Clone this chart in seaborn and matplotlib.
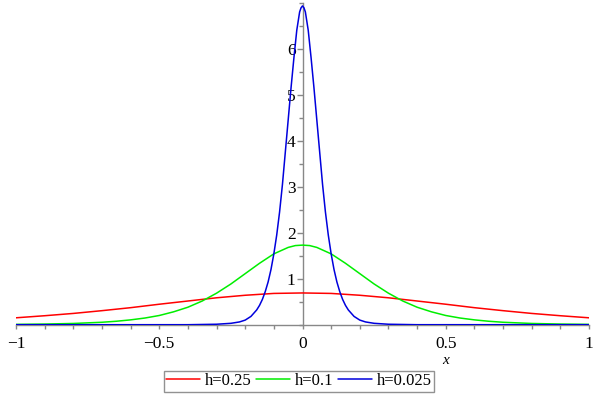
import numpy as np
import pandas as pd
import seaborn as sns
import matplotlib.pyplot as plt
from matplotlib.ticker import MultipleLocator
import matplotlib.transforms as mtransforms

# values
x_red = [-1.0, -0.9, -0.8, -0.7, -0.6, -0.5, -0.4, -0.3, -0.2, -0.1, 0.0,
         0.1, 0.2, 0.3, 0.4, 0.5, 0.6, 0.7, 0.8, 0.9, 1.0]
y_red = [0.15, 0.195, 0.245, 0.305, 0.37, 0.445, 0.515, 0.585, 0.64, 0.68, 0.69,
         0.68, 0.64, 0.585, 0.515, 0.445, 0.37, 0.305, 0.245, 0.195, 0.15]

x_green = [-1.0, -0.9, -0.8, -0.7, -0.65, -0.6, -0.55, -0.5, -0.45, -0.4, -0.35, -0.3,
           -0.25, -0.2, -0.15, -0.1, -0.05, -0.025, 0.0, 0.025, 0.05, 0.1, 0.15,
           0.2, 0.25, 0.3, 0.35, 0.4, 0.45, 0.5, 0.55, 0.6, 0.65, 0.7, 0.8, 0.9, 1.0]
y_green = [0.007, 0.014, 0.027, 0.053, 0.075, 0.105, 0.145, 0.20, 0.28, 0.38, 0.515, 0.685,
           0.885, 1.11, 1.335, 1.54, 1.68, 1.72, 1.73, 1.72, 1.68, 1.54, 1.335,
           1.11, 0.885, 0.685, 0.515, 0.38, 0.28, 0.20, 0.145, 0.105, 0.075, 0.053,
           0.027, 0.014, 0.007]

x_blue = [-1.0, -0.8, -0.6, -0.4, -0.3, -0.25, -0.22, -0.2, -0.18, -0.16, -0.15, -0.14,
          -0.13, -0.12, -0.11, -0.1, -0.09, -0.08, -0.07, -0.06, -0.05, -0.04, -0.03,
          -0.02, -0.01, -0.005, 0.0, 0.005, 0.01, 0.02, 0.03, 0.04, 0.05, 0.06, 0.07,
          0.08, 0.09, 0.1, 0.11, 0.12, 0.13, 0.14, 0.15, 0.16, 0.18, 0.2, 0.22, 0.25,
          0.3, 0.4, 0.6, 0.8, 1.0]
y_blue = [0.0, 0.0, 0.0, 0.0, 0.01, 0.03, 0.06, 0.10, 0.18, 0.32, 0.42, 0.55,
          0.72, 0.93, 1.20, 1.54, 1.95, 2.45, 3.05, 3.75, 4.45, 5.15, 5.80,
          6.40, 6.80, 6.89, 6.93, 6.89, 6.80, 6.40, 5.80, 5.15, 4.45, 3.75, 3.05,
          2.45, 1.95, 1.54, 1.20, 0.93, 0.72, 0.55, 0.42, 0.32, 0.18, 0.10, 0.06, 0.03,
          0.01, 0.0, 0.0, 0.0, 0.0]

labels = ["h=0.25", "h=0.1", "h=0.025"]
colors = ["#ff0000", "#00ee00", "#0000dd"]
xtick_vals = [-1, -0.5, 0, 0.5, 1]
xtick_text = ["\u22121", "\u22120.5", "0", "0.5", "1"]
ytick_vals = [1, 2, 3, 4, 5, 6]

df = pd.concat([
    pd.DataFrame({"x": x_red, "y": y_red, "h": labels[0]}),
    pd.DataFrame({"x": x_green, "y": y_green, "h": labels[1]}),
    pd.DataFrame({"x": x_blue, "y": y_blue, "h": labels[2]}),
])

sns.set_theme(style="white")
plt.rcParams["font.family"] = ["Liberation Serif", "DejaVu Serif"]
plt.rcParams["text.color"] = "black"

fig = plt.figure(figsize=(6, 4), dpi=100)
ax = fig.add_axes([16 / 600, 75.3 / 400, 573 / 600, 322 / 400])

sns.lineplot(data=df, x="x", y="y", hue="h", hue_order=labels,
             palette=dict(zip(labels, colors)), estimator=None,
             linewidth=1.1, legend=False, ax=ax, zorder=3)

ax.set_xlim(-1, 1)
ax.set_ylim(0, 7.0)

for s in ["top", "right"]:
    ax.spines[s].set_visible(False)
ax.spines["left"].set_position(("data", 0))
for s in ["left", "bottom"]:
    ax.spines[s].set_color("#888888")
    ax.spines[s].set_linewidth(1.0)

ax.set_xticks(xtick_vals)
ax.set_xticklabels(xtick_text)
ax.xaxis.set_minor_locator(MultipleLocator(0.1))
ax.set_yticks(ytick_vals)
ax.set_yticklabels([str(v) for v in ytick_vals])
ax.yaxis.set_minor_locator(MultipleLocator(0.5))

ax.tick_params(axis="x", which="both", direction="out", length=3, width=1,
               color="#888888", labelsize=12.5, labelcolor="black", pad=5, bottom=True)
ax.tick_params(axis="y", which="major", direction="out", length=4, width=1,
               color="#888888", labelsize=12.5, labelcolor="black", pad=1, left=True)
ax.tick_params(axis="y", which="minor", direction="out", length=3, width=1,
               color="#888888", left=True)
ax.set_xlabel("")
ax.set_ylabel("")

trans = mtransforms.blended_transform_factory(ax.transData, ax.transAxes)
ax.text(0.5, -0.112, "x", transform=trans, style="italic", fontsize=11,
        ha="center", va="center", color="black")

leg = fig.legend(ax.get_lines()[:3], labels, loc="center",
                 bbox_to_anchor=(299 / 600, 1 - 381 / 400), ncol=3,
                 fontsize=12, frameon=True, fancybox=False, handlelength=2.0,
                 handletextpad=0.3, columnspacing=0.3, borderpad=0.15,
                 borderaxespad=0, labelcolor="black")
leg.get_frame().set_edgecolor("#777777")
leg.get_frame().set_linewidth(1.0)

fig.savefig("out.png", dpi=100)
